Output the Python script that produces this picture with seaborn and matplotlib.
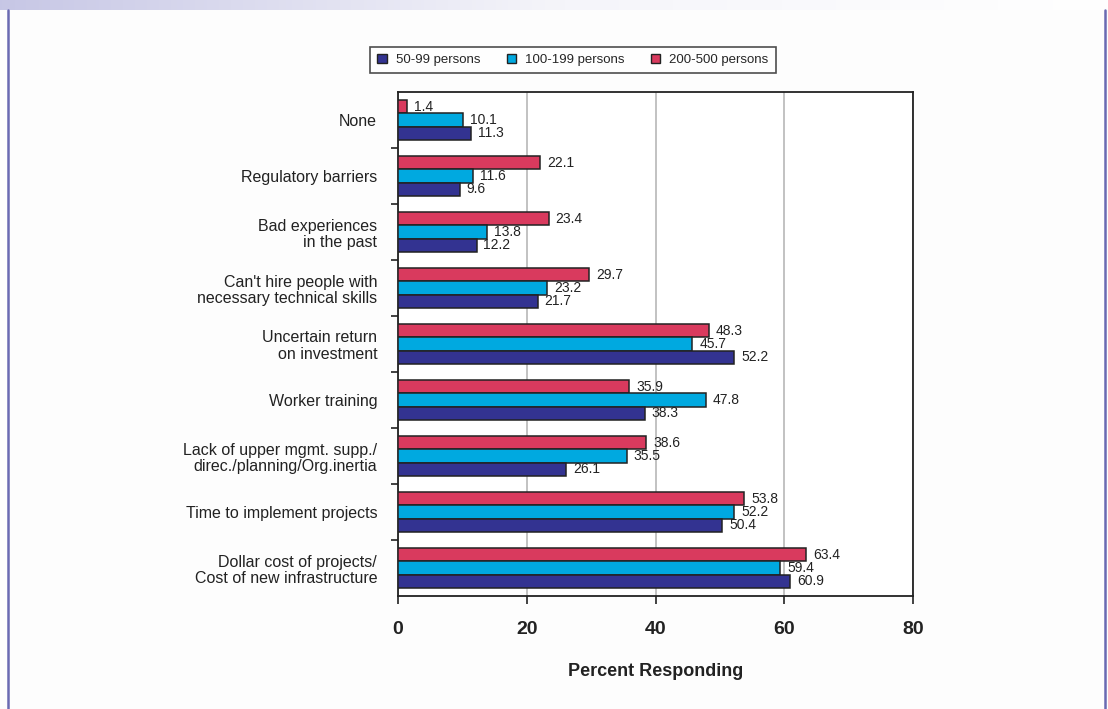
import numpy as np
import pandas as pd
import matplotlib
matplotlib.use("Agg")
import matplotlib.pyplot as plt
import seaborn as sns
from matplotlib.patches import Patch

categories = [
    "None",
    "Regulatory barriers",
    "Bad experiences\nin the past",
    "Can't hire people with\nnecessary technical skills",
    "Uncertain return\non investment",
    "Worker training",
    "Lack of upper mgmt. supp./\ndirec./planning/Org.inertia",
    "Time to implement projects",
    "Dollar cost of projects/\nCost of new infrastructure",
]
series_names = ["50-99 persons", "100-199 persons", "200-500 persons"]
vals_50_99 = [11.3, 9.6, 12.2, 21.7, 52.2, 38.3, 26.1, 50.4, 60.9]
vals_100_199 = [10.1, 11.6, 13.8, 23.2, 45.7, 47.8, 35.5, 52.2, 59.4]
vals_200_500 = [1.4, 22.1, 23.4, 29.7, 48.3, 35.9, 38.6, 53.8, 63.4]
x_ticks = [0, 20, 40, 60, 80]
x_label = "Percent Responding"

colors = {"50-99 persons": "#333391", "100-199 persons": "#00a9e0", "200-500 persons": "#d93a5e"}

rows = []
for name, vals in zip(series_names, [vals_50_99, vals_100_199, vals_200_500]):
    for c, v in zip(categories, vals):
        rows.append({"category": c, "series": name, "value": v})
df = pd.DataFrame(rows)

sns.set_theme(style="white")
plt.rcParams["font.family"] = ["Liberation Sans", "DejaVu Sans"]

fig = plt.figure(figsize=(11.08, 7.09), dpi=100, facecolor="#fdfdfd")

# header gradient strip
hdr = fig.add_axes([0, 1 - 10 / 709, 1, 10 / 709])
grad = np.linspace(0, 1, 512)
r = np.interp(grad, [0, 0.5, 1], [0.78, 0.96, 1.0])
g = np.interp(grad, [0, 0.5, 1], [0.78, 0.96, 1.0])
b = np.interp(grad, [0, 0.5, 1], [0.90, 0.98, 1.0])
img = np.stack([r, g, b], axis=-1)[None, :, :]
hdr.imshow(img, aspect="auto", extent=[0, 1, 0, 1])
hdr.set_axis_off()

# side border lines
fig.add_artist(plt.Line2D([7.5 / 1108, 7.5 / 1108], [0, 1 - 10 / 709], color="#6a6ab2", lw=1.8))
fig.add_artist(plt.Line2D([1105 / 1108, 1105 / 1108], [0, 1 - 10 / 709], color="#6a6ab2", lw=1.8))

ax = fig.add_axes([398 / 1108, 1 - 596 / 709, (913 - 398) / 1108, (596 - 92) / 709])
ax.set_facecolor("white")
hue_draw = ["200-500 persons", "100-199 persons", "50-99 persons"]
sns.barplot(data=df, y="category", x="value", hue="series", hue_order=hue_draw,
            order=categories, palette=colors, orient="h", width=0.7, saturation=1,
            edgecolor="#222222", linewidth=1.1, ax=ax, legend=False, zorder=3)

for cont in ax.containers:
    ax.bar_label(cont, labels=[f"{v:.1f}" for v in cont.datavalues], padding=5,
                 fontsize=10, color="#222222")

ax.set_xlim(0, 80)
ax.set_ylim(len(categories) - 0.5, -0.5)
ax.set_xticks(x_ticks)
ax.set_xticklabels([str(t) for t in x_ticks], fontsize=14, fontweight="bold", color="#222222")
ax.set_yticks(np.arange(len(categories)))
ax.set_yticklabels(categories, fontsize=11.5, color="#222222", linespacing=1.12)
ax.tick_params(axis="y", which="major", left=True, length=0, pad=15)
ax.tick_params(axis="x", bottom=True, length=6, width=1.2, direction="out", pad=12, color="#222222")
ax.set_yticks(np.arange(len(categories) - 1) + 0.5, minor=True)
ax.tick_params(axis="y", which="minor", left=True, length=5, width=1.2, color="#222222", direction="out")
ax.set_xlabel(x_label, fontsize=13, fontweight="bold", color="#222222", labelpad=18)
ax.set_ylabel("")
for sp in ax.spines.values():
    sp.set_visible(True)
    sp.set_color("#222222")
    sp.set_linewidth(1.3)
ax.grid(axis="x", color="#b8b8b8", linewidth=1.2, zorder=0)
ax.grid(axis="y", visible=False)
ax.set_axisbelow(True)

handles = [Patch(facecolor=colors[s], edgecolor="#222222", label=s) for s in series_names]
leg = fig.legend(handles=handles, loc="center", bbox_to_anchor=(573 / 1108, 1 - 60 / 709),
                 ncol=3, frameon=True, fontsize=9.5, handlelength=0.7, handleheight=0.7,
                 columnspacing=2.0, handletextpad=0.7, borderpad=0.55, fancybox=False)
leg.get_frame().set_edgecolor("#222222")
leg.get_frame().set_linewidth(1.2)

fig.savefig("out.png", dpi=100, facecolor=fig.get_facecolor())
